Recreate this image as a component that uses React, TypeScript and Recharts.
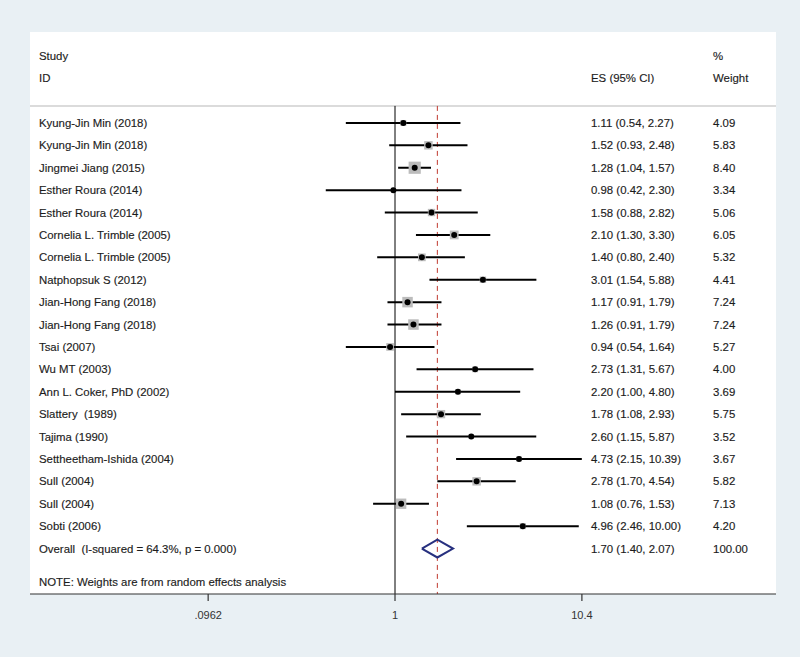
import React from 'react';
import { ComposedChart, Scatter, XAxis, YAxis, ErrorBar, ReferenceLine, CartesianGrid } from 'recharts';

// study rows, top to bottom
const studyNames = [
  'Kyung-Jin Min (2018)',
  'Kyung-Jin Min (2018)',
  'Jingmei Jiang (2015)',
  'Esther Roura (2014)',
  'Esther Roura (2014)',
  'Cornelia L. Trimble (2005)',
  'Cornelia L. Trimble (2005)',
  'Natphopsuk S (2012)',
  'Jian-Hong Fang (2018)',
  'Jian-Hong Fang (2018)',
  'Tsai (2007)',
  'Wu MT (2003)',
  'Ann L. Coker, PhD (2002)',
  'Slattery  (1989)',
  'Tajima (1990)',
  'Settheetham-Ishida (2004)',
  'Sull (2004)',
  'Sull (2004)',
  'Sobti (2006)',
];
const esValues = [1.11, 1.52, 1.28, 0.98, 1.58, 2.10, 1.40, 3.01, 1.17, 1.26, 0.94, 2.73, 2.20, 1.78, 2.60, 4.73, 2.78, 1.08, 4.96];
const ciLow = [0.54, 0.93, 1.04, 0.42, 0.88, 1.30, 0.80, 1.54, 0.91, 0.91, 0.54, 1.31, 1.00, 1.08, 1.15, 2.15, 1.70, 0.76, 2.46];
const ciHigh = [2.27, 2.48, 1.57, 2.30, 2.82, 3.30, 2.40, 5.88, 1.79, 1.79, 1.64, 5.67, 4.80, 2.93, 5.87, 10.39, 4.54, 1.53, 10.00];
const weights = [4.09, 5.83, 8.40, 3.34, 5.06, 6.05, 5.32, 4.41, 7.24, 7.24, 5.27, 4.00, 3.69, 5.75, 3.52, 3.67, 5.82, 7.13, 4.20];

const overallEs = 1.70;
const overallLow = 1.40;
const overallHigh = 2.07;
const overallWeight = '100.00';
const overallLabel = 'Overall  (I-squared = 64.3%, p = 0.000)';
const noteLabel = 'NOTE: Weights are from random effects analysis';

const xTicks = [0.0962, 1, 10.4];
const xTickLabels = ['.0962', '1', '10.4'];

// layout (log x axis spans the whole panel, text columns sit on it)
const X_DOMAIN = [0.01032, 118.4];
const Y_DOMAIN = [-3.06, 22.03];
const NAME_X = 0.01155;
const ES_X = 11.66;
const WT_X = 53.8;
const SEP_ROW = 0.24;
const OVERALL_ROW = studyNames.length + 1;
const NOTE_ROW = 21.5;
const DIAMOND_HALF = 0.4;
const BOX_SCALE = 1.45;

const FONT = '"Liberation Sans", Arial, Helvetica, sans-serif';
const TEXT_COLOR = '#1c1c1c';

const fmt = (v: number) => v.toFixed(2);

const studyRows = studyNames.map((name, i) => ({
  x: esValues[i],
  y: i + 1,
  w: weights[i],
  err: [esValues[i] - ciLow[i], ciHigh[i] - esValues[i]],
}));

const nameCol = [
  { x: NAME_X, y: -2, text: 'Study' },
  { x: NAME_X, y: -1, text: 'ID' },
  ...studyNames.map((n, i) => ({ x: NAME_X, y: i + 1, text: n })),
  { x: NAME_X, y: OVERALL_ROW, text: overallLabel },
  { x: NAME_X, y: NOTE_ROW, text: noteLabel },
];

const esCol = [
  { x: ES_X, y: -1, text: 'ES (95% CI)' },
  ...esValues.map((v, i) => ({ x: ES_X, y: i + 1, text: `${fmt(v)} (${fmt(ciLow[i])}, ${fmt(ciHigh[i])})` })),
  { x: ES_X, y: OVERALL_ROW, text: `${fmt(overallEs)} (${fmt(overallLow)}, ${fmt(overallHigh)})` },
];

const wtCol = [
  { x: WT_X, y: -2, text: '%' },
  { x: WT_X, y: -1, text: 'Weight' },
  ...weights.map((w, i) => ({ x: WT_X, y: i + 1, text: fmt(w) })),
  { x: WT_X, y: OVERALL_ROW, text: overallWeight },
];

const diamond = [
  { x: overallLow, y: OVERALL_ROW },
  { x: overallEs, y: OVERALL_ROW - DIAMOND_HALF },
  { x: overallHigh, y: OVERALL_ROW },
  { x: overallEs, y: OVERALL_ROW + DIAMOND_HALF },
  { x: overallLow, y: OVERALL_ROW },
];

const TextShape = (props: any) => (
  <text
    x={props.cx}
    y={props.cy}
    dy="0.36em"
    fontSize={11.4}
    fontFamily={FONT}
    fill={TEXT_COLOR}
    stroke={TEXT_COLOR}
    strokeWidth={0.15}
    style={{ whiteSpace: 'pre' }}
  >
    {props.payload.text}
  </text>
);

const BoxShape = (props: any) => {
  const s = props.payload.w * BOX_SCALE;
  return <rect x={props.cx - s / 2} y={props.cy - s / 2} width={s} height={s} fill="#bcbcbc" />;
};

const DotShape = (props: any) => <circle cx={props.cx} cy={props.cy} r={3} fill="#000" />;

export default function App() {
  return (
    <div style={{ position: 'absolute', left: 0, top: 0, width: 800, height: 657, background: '#e9f0f4' }}>
      <ComposedChart width={800} height={657} margin={{ top: 32, right: 24, left: 30, bottom: 0 }}>
        <CartesianGrid fill="#ffffff" horizontal={false} vertical={false} />
        <XAxis
          type="number"
          dataKey="x"
          scale="log"
          domain={X_DOMAIN}
          allowDataOverflow
          ticks={xTicks}
          tickFormatter={(v: number) => xTickLabels[xTicks.indexOf(v)] ?? String(v)}
          height={63}
          stroke="#333"
          strokeWidth={1.2}
          tickSize={7}
          tickMargin={10}
          tick={{ fontSize: 11, fontFamily: FONT, fill: '#333' }}
        />
        <YAxis type="number" dataKey="y" domain={Y_DOMAIN} reversed hide allowDataOverflow />
        <ReferenceLine
          segment={[{ x: X_DOMAIN[0], y: SEP_ROW }, { x: X_DOMAIN[1], y: SEP_ROW }]}
          stroke="#cfcfcf"
          strokeWidth={1.5}
        />
        <ReferenceLine
          segment={[{ x: 1, y: SEP_ROW }, { x: 1, y: Y_DOMAIN[1] }]}
          stroke="#000"
          strokeWidth={1}
        />
        <ReferenceLine
          segment={[{ x: overallEs, y: SEP_ROW }, { x: overallEs, y: Y_DOMAIN[1] }]}
          stroke="#c0392f"
          strokeWidth={1}
          strokeDasharray="5 4"
        />
        <Scatter data={studyRows} shape={BoxShape} isAnimationActive={false} />
        <Scatter data={studyRows} shape={DotShape} isAnimationActive={false}>
          <ErrorBar dataKey="err" direction="x" width={0} stroke="#000" strokeWidth={2} />
        </Scatter>
        <Scatter
          data={diamond}
          line={{ stroke: '#27307f', strokeWidth: 2 }}
          lineType="joint"
          shape={() => null}
          isAnimationActive={false}
        />
        <Scatter data={nameCol} shape={TextShape} isAnimationActive={false} />
        <Scatter data={esCol} shape={TextShape} isAnimationActive={false} />
        <Scatter data={wtCol} shape={TextShape} isAnimationActive={false} />
      </ComposedChart>
    </div>
  );
}
